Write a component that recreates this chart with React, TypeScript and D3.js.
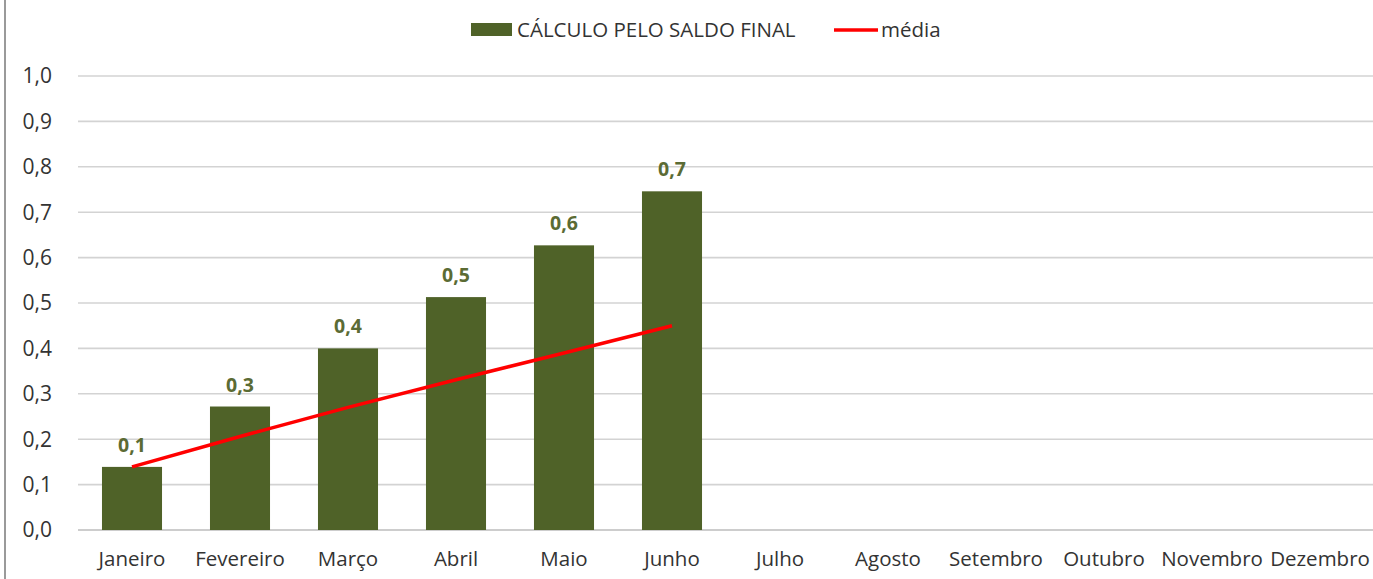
import React, { useEffect } from "react";
import * as d3 from "d3";

const months = ["Janeiro", "Fevereiro", "Março", "Abril", "Maio", "Junho", "Julho", "Agosto", "Setembro", "Outubro", "Novembro", "Dezembro"];
const saldoFinal = [0.139, 0.272, 0.4, 0.513, 0.627, 0.746];
const saldoLabels = ["0,1", "0,3", "0,4", "0,5", "0,6", "0,7"];
const media = [0.139, 0.206, 0.27, 0.331, 0.39, 0.45];
const yTicks = [0, 0.1, 0.2, 0.3, 0.4, 0.5, 0.6, 0.7, 0.8, 0.9, 1.0];
const seriesNames = ["CÁLCULO PELO SALDO FINAL", "média"];

const W = 1373;
const H = 579;
const FONT = "'Open Sans', sans-serif";
const BAR = "#4f6228";
const LABEL = "#5b6b34";

export default function App() {
  useEffect(() => {
    document.body.style.margin = "0";
  }, []);

  const x = d3.scaleBand<string>().domain(months).range([78, 1374]).paddingInner(0.444).paddingOuter(0.222);
  const y = d3.scaleLinear().domain([0, 1]).range([530, 76]);
  const fmt = (v: number) => d3.format(".1f")(v).replace(".", ",");
  const line = d3
    .line<number>()
    .x((_, i) => (x(months[i]) as number) + x.bandwidth() / 2)
    .y((d) => y(d));

  return (
    <svg width={W} height={H} style={{ display: "block", background: "#fff" }} fontFamily={FONT}>
      <line x1={5} x2={5} y1={0} y2={H} stroke="#9a9a9a" strokeWidth={2} />
      {yTicks.map((t) => (
        <g key={t}>
          <line x1={78} x2={1373} y1={y(t)} y2={y(t)} stroke={t === 0 ? "#bdbdbd" : "#d3d3d3"} strokeWidth={1.6} />
          <text x={52} y={y(t)} dy="0.35em" textAnchor="end" fontSize={21} fill="#333">
            {fmt(t)}
          </text>
        </g>
      ))}
      {saldoFinal.map((v, i) => (
        <g key={months[i]}>
          <rect x={x(months[i])} y={y(v)} width={x.bandwidth()} height={y(0) - y(v)} fill={BAR} />
          <text
            x={(x(months[i]) as number) + x.bandwidth() / 2}
            y={y(v) - 15}
            textAnchor="middle"
            fontSize={19.5}
            fontWeight="bold"
            fill={LABEL}
          >
            {saldoLabels[i]}
          </text>
        </g>
      ))}
      <path d={line(media) || ""} fill="none" stroke="#ff0000" strokeWidth={3.5} />
      {months.map((m) => (
        <text key={m} x={(x(m) as number) + x.bandwidth() / 2} y={566} textAnchor="middle" fontSize={20.5} fill="#333">
          {m}
        </text>
      ))}
      <rect x={471} y={23} width={41} height={13} fill={BAR} />
      <text x={517} y={30} dy="0.35em" fontSize={20.5} fill="#333">
        {seriesNames[0]}
      </text>
      <line x1={834} x2={878} y1={30} y2={30} stroke="#ff0000" strokeWidth={3.5} />
      <text x={881} y={30} dy="0.35em" fontSize={20.5} fill="#333">
        {seriesNames[1]}
      </text>
    </svg>
  );
}
